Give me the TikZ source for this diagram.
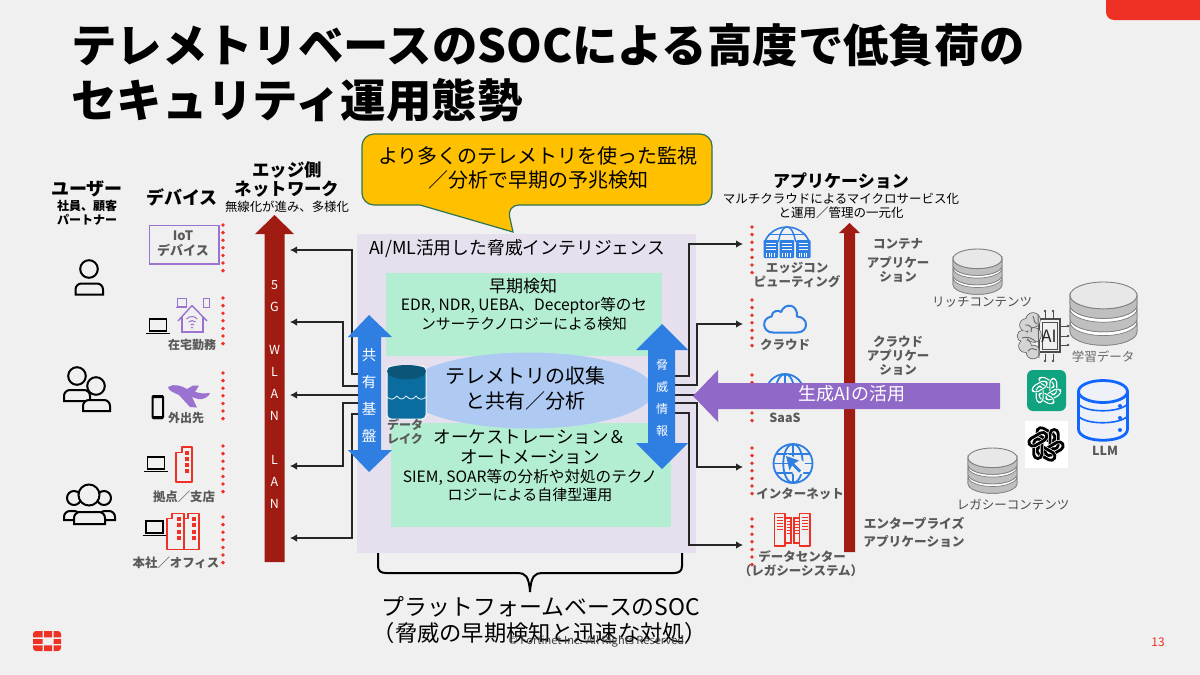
\documentclass[tikz,border=0pt]{standalone}
\usepackage{fontspec}
\setmainfont{Noto Sans CJK JP}
\usetikzlibrary{arrows.meta,calc}
\definecolor{bgc}{HTML}{F0F0F0}
\definecolor{fred}{HTML}{EE3124}
\definecolor{dred}{HTML}{A01C12}
\definecolor{lav}{HTML}{E6E0EE}
\definecolor{mint}{HTML}{B4EED2}
\definecolor{elli}{HTML}{AECAF2}
\definecolor{lake}{HTML}{0B6C9F}
\definecolor{laked}{HTML}{0A5578}
\definecolor{bblue}{HTML}{2F7FE3}
\definecolor{pur}{HTML}{9068C8}
\definecolor{lpur}{HTML}{9B72D0}
\definecolor{gtx}{HTML}{595959}
\definecolor{ylw}{HTML}{FFC000}
\definecolor{ylwb}{HTML}{2E7552}
\definecolor{gpt}{HTML}{10A37F}
\definecolor{llm}{HTML}{1166FF}
\definecolor{llmbg}{HTML}{EEF1F7}
\newcommand\fsz[1]{\fontsize{#1}{#1}\selectfont}
\tikzset{
  lbl/.style={inner sep=0pt,align=center,text=#1},
  lbl/.default=black,
  conn/.style={draw=black!85,line width=1.1pt,-{Latex[length=7pt,width=7.5pt]}},
  connp/.style={draw=black!85,line width=1.1pt},
  icon/.style={draw=black,line width=2pt},
}
% user icons
\newcommand\myhead[3]{\draw[icon,fill=bgc] (#1,#2) circle[radius=#3];}
\newcommand\mybody[4]{\draw[icon,fill=bgc,rounded corners=6pt] (#1,#4) -- (#1,#2) -- (#3,#2) [sharp corners] -- (#3,#4) -- cycle;}
\newcommand\mylaptop[3]{% x-left of screen, top, width
  \draw[draw=black,line width=1.6pt,fill=none] (#1,#2) rectangle ++(#3,12);
  \draw[draw=black,line width=1.5pt] ($(#1,#2)+(-3.5,14.5)$) -- ++(#3+7,0);
}
\newcommand\graydb[4]{% cx top w h
  \pgfmathsetmacro\dbr{#3/2}\pgfmathsetmacro\dbry{#3*0.2}
  \pgfmathsetmacro\dbs{(#4-2*\dbry)/3}
  \foreach \k in {2,1,0}{
    \pgfmathsetmacro\dby{#2+\dbry+\k*\dbs}
    \pgfmathsetmacro\dbh{\dbs*0.72}
    \draw[draw=black!50,line width=.7pt,fill=white] (#1-\dbr,\dby) -- (#1-\dbr,\dby+\dbh) arc[start angle=180,end angle=0,x radius=\dbr,y radius=\dbry] -- (#1+\dbr,\dby) -- cycle;
    \draw[draw=black!50,line width=.7pt,fill=black!25] (#1-\dbr,\dby) -- (#1-\dbr,\dby+\dbh) arc[start angle=180,end angle=0,x radius=\dbr,y radius=\dbry] -- (#1+\dbr,\dby) arc[start angle=0,end angle=180,x radius=\dbr,y radius=\dbry] -- cycle;
  }
  \draw[draw=black!50,line width=.9pt,fill=black!9] (#1,#2+\dbry) ellipse[x radius=\dbr,y radius=\dbry];
}
\newcommand\rosette[6]{% cx cy color lw scale halo
  \foreach \a in {0,60,...,300}{
    \begin{scope}[shift={(#1,#2)},rotate=\a,scale=#5]
      \begin{scope}[shift={(0,-10.5)},rotate=30]
      \draw[draw=#6,line width=#4+1.2pt,rounded corners=4.4pt,line join=round] (-11,-4.6) rectangle (11,4.6);
      \draw[draw=#3,line width=#4,rounded corners=4.4pt,line join=round] (-11,-4.6) rectangle (11,4.6);
      \end{scope}
    \end{scope}
  }
}
\newcommand\myglobe[4]{% cx cy r lw
  \draw[draw=bblue,line width=#4] (#1,#2) circle[radius=#3];
  \draw[draw=bblue,line width=#4] (#1,#2) ellipse[x radius=#3*0.5,y radius=#3];
  \draw[draw=bblue,line width=#4] (#1,#2-#3) -- (#1,#2+#3) (#1-#3,#2) -- (#1+#3,#2);
  \draw[draw=bblue,line width=#4] (#1-#3*0.85,#2-#3*0.5) -- (#1+#3*0.85,#2-#3*0.5) (#1-#3*0.85,#2+#3*0.5) -- (#1+#3*0.85,#2+#3*0.5);
}
\newcommand\dotcol[2]{\foreach \i in {0,...,6}{\fill[fred] (#1,#2+\i*7.6) circle[radius=1.9];}}
\begin{document}
\begin{tikzpicture}[x=1pt,y=1pt,yscale=-1]
\useasboundingbox (0,0) rectangle (1200,675);
\fill[bgc] (0,0) rectangle (1200,675);
\fill[fred,rounded corners=8pt] (1106,-12) rectangle (1212,20);
% title
\node[lbl,anchor=west,font=\fsz{45.4}\bfseries] (title1) at (71,45) {テレメトリベースのSOCによる高度で低負荷の};
\node[lbl,anchor=west,font=\fsz{45.4}\bfseries] (title2) at (71,100) {セキュリティ運用態勢};
% callout
\draw[draw=ylwb,line width=1.2pt,fill=ylw,rounded corners=12pt] (362,134) -- (712,134) -- (712,205) -- (507,205) [sharp corners] -- (513,232) -- (420,205) [rounded corners=12pt] -- (362,205) -- cycle;
\node[lbl,font=\fsz{20}] (call1) at (538,156) {より多くのテレメトリを使った監視};
\node[lbl,font=\fsz{20}] (call2) at (538,180) {／分析で早期の予兆検知};
% central box
\fill[lav] (357,234) rectangle (696,553);
% connectors left
\coordinate (ls1) at (360,374); \coordinate (lt1) at (290,250);
\coordinate (ls2) at (360,386); \coordinate (lt2) at (290,322);
\coordinate (ls3) at (360,395); \coordinate (lt3) at (290,395);
\coordinate (ls4) at (360,403); \coordinate (lt4) at (290,466);
\coordinate (ls5) at (360,414); \coordinate (lt5) at (290,538);
\draw[conn] (ls1) -- ++(-8,0) |- (lt1);
\draw[conn] (ls2) -- ++(-17,0) |- (lt2);
\draw[conn] (ls3) -- (lt3);
\draw[conn] (ls4) -- ++(-17,0) |- (lt4);
\draw[conn] (ls5) -- ++(-8,0) |- (lt5);
% connectors right
\coordinate (rs1) at (674,376); \coordinate (rt1) at (743,244);
\coordinate (rs2) at (674,385); \coordinate (rt2) at (743,324);
\coordinate (rs3) at (674,395); \coordinate (rt3) at (720,395);
\coordinate (rs4) at (674,403); \coordinate (rt4) at (743,467);
\coordinate (rs5) at (674,413); \coordinate (rt5) at (743,545);
\draw[conn] (rs1) -| (689,300) |- (rt1);
\draw[conn] (rs2) -| (697,350) |- (rt2);
\draw[connp] (rs3) -- (rt3);
\draw[conn] (rs4) -| (697,440) |- (rt4);
\draw[conn] (rs5) -| (689,500) |- (rt5);
% mint boxes
\fill[mint] (386,273) rectangle (662,356);
\fill[mint] (391,423) rectangle (671,527);
\fill[elli] (529,390.5) ellipse[x radius=125,y radius=38];
\node[lbl,font=\fsz{17.8}] (aiml) at (517,249) {AI/ML活用した脅威インテリジェンス};
\node[lbl,font=\fsz{17}] (early) at (523,286) {早期検知};
\node[lbl,font=\fsz{15.6}] (early1) at (524,306) {EDR, NDR, UEBA、Deceptor等のセ};
\node[lbl,font=\fsz{14.8}] (early2) at (524,324) {ンサーテクノロジーによる検知};
\node[lbl,font=\fsz{20}] (tele1) at (525,376) {テレメトリの収集};
\node[lbl,font=\fsz{20}] (tele2) at (525,401) {と共有／分析};
\node[lbl,font=\fsz{17.5}] (orch1) at (530,437) {オーケストレーション＆};
\node[lbl,font=\fsz{17.5}] (orch2) at (530,457) {オートメーション};
\node[lbl,font=\fsz{15.6}] (orch3) at (530,477) {SIEM, SOAR等の分析や対処のテクノ};
\node[lbl,font=\fsz{15}] (orch4) at (530,495) {ロジーによる自律型運用};
% data lake
\draw[draw=white,line width=1pt,fill=lake,rounded corners=4pt] (387,366) rectangle (426,419);
\fill[laked] (387,371) .. controls (387,363) and (426,363) .. (426,371) .. controls (426,382) and (387,382) .. (387,371) -- cycle;
\draw[draw=white!85!lake,line width=.9pt] (387,397) .. controls (391,400) and (393,400) .. (397,396) .. controls (400,400) and (403,400) .. (406,396) .. controls (410,400) and (413,400) .. (416,396) .. controls (419,400) and (423,400) .. (426,397);
\node[lbl=gtx,font=\fsz{12}\bfseries] (dl1) at (405,425) {データ};
\node[lbl=gtx,font=\fsz{12}\bfseries] (dl2) at (405,439) {レイク};
% blue double arrows
\fill[bblue] (369,315) -- (392,337) -- (381,337) -- (381,450) -- (392,450) -- (369,472) -- (348,450) -- (358,450) -- (358,337) -- (348,337) -- cycle;
\fill[bblue] (662,324) -- (688,350) -- (675,350) -- (675,443) -- (688,443) -- (662,469) -- (636,443) -- (648,443) -- (648,350) -- (636,350) -- cycle;
\node[lbl=white,font=\fsz{14.5}] (sh1) at (369,355) {共};
\node[lbl=white,font=\fsz{14.5}] (sh2) at (369,382) {有};
\node[lbl=white,font=\fsz{14.5}] (sh3) at (369,409) {基};
\node[lbl=white,font=\fsz{14.5}] (sh4) at (369,436) {盤};
\node[lbl=white,font=\fsz{12}] (th1) at (662,365) {脅};
\node[lbl=white,font=\fsz{12}] (th2) at (662,387) {威};
\node[lbl=white,font=\fsz{12}] (th3) at (662,409) {情};
\node[lbl=white,font=\fsz{12}] (th4) at (662,431) {報};
% left headers
\node[lbl,font=\fsz{18}\bfseries] (u1) at (87,189) {ユーザー};
\node[lbl,font=\fsz{12}\bfseries] (u2) at (87,206) {社員、顧客};
\node[lbl,font=\fsz{12}\bfseries] (u3) at (87,220) {パートナー};
\node[lbl,font=\fsz{18}\bfseries] (dv) at (182,197) {デバイス};
\node[lbl,font=\fsz{17.4}\bfseries] (eg1) at (287,170) {エッジ側};
\node[lbl,font=\fsz{17.4}\bfseries] (eg2) at (287,189) {ネットワーク};
\node[lbl,font=\fsz{12.4}] (eg3) at (287,207) {無線化が進み、多様化};
% persons
\myhead{89}{269}{8.8}\mybody{75.5}{283.5}{103}{294.5}
\mybody{64}{390}{90}{401}\myhead{77}{376}{8.8}
\myhead{96}{386}{8.8}\mybody{83}{400}{110}{411}
\myhead{74}{498}{7}\myhead{104}{498}{7}\myhead{89}{495}{10.5}
\mybody{64}{511}{80}{520}\mybody{99}{511}{115}{520}\mybody{74}{512}{105}{524}
% IoT box
\draw[draw=lpur,line width=1.5pt] (149.5,225.5) rectangle (219,264);
\node[lbl=gtx,font=\fsz{13}\bfseries] (iot1) at (183,236) {IoT};
\node[lbl=gtx,font=\fsz{13}\bfseries] (iot2) at (183,250) {デバイス};
% home
\mylaptop{149.5}{319}{17}
\draw[draw=lpur,line width=1.4pt,line join=round] (178,321) -- (192,305.5) -- (207,321);
\draw[draw=lpur,line width=1.4pt] (182,317) -- (182,332) -- (203,332) -- (203,317);
\draw[draw=lpur,line width=1pt] (186.5,319) arc[start angle=220,end angle=320,radius=7] (188.5,322) arc[start angle=225,end angle=315,radius=5] (190.5,325) arc[start angle=225,end angle=315,radius=2.5];
\fill[lpur] (192,327.5) circle[radius=1];
\draw[draw=lpur,line width=1pt] (177,298.5) rectangle (186,306) (175.5,307.5) -- (187,307.5);
\draw[draw=lpur,line width=1pt] (203.5,298.5) rectangle (209,307);
\node[lbl=gtx,font=\fsz{12}\bfseries] (home) at (192,345) {在宅勤務};
% mobile
\draw[draw=black,line width=2pt,fill=bgc,rounded corners=1pt] (152.5,396) rectangle (163,418);
\fill[black] (152.5,395) rectangle (163,398) (152.5,416) rectangle (163,419);
\fill[lpur] (168,387) .. controls (174,383) and (182,386) .. (187,389) -- (193,385.5) -- (199,385.5) -- (195,392) -- (203,393.5) -- (210,393) .. controls (209,397) and (203,400) .. (198,399) -- (192,397) -- (197,407.5) -- (190,407) -- (179,395) .. controls (175,393) and (168,391) .. (168,387) -- cycle;
\node[lbl=gtx,font=\fsz{12}\bfseries] (out) at (186,418) {外出先};
% branch
\mylaptop{147.5}{457}{17}
\draw[draw=fred,line width=1.3pt,line join=round] (176,452.5) -- (182,452.5) -- (182,447) -- (192,447) -- (192,482) -- (176,482) -- cycle;
\foreach \y in {451,457,463,469}{\fill[fred] (185,\y) rectangle (189,\y+3.5);}
\node[lbl=gtx,font=\fsz{12.4}\bfseries] (bra) at (184,497) {拠点／支店};
% office
\mylaptop{146}{521}{17}
\draw[draw=fred,line width=1.3pt,line join=round] (167,518.5) -- (172,518.5) -- (172,513.5) -- (184,513.5) -- (184,549.5) -- (167,549.5) -- cycle;
\draw[draw=fred,line width=1.3pt,line join=round] (184,518.5) -- (188,518.5) -- (188,513.5) -- (199,513.5) -- (199,549.5) -- (184,549.5);
\foreach \y in {517,523,530,536}{\fill[fred] (177,\y) rectangle (181,\y+3.5);\fill[fred] (192,\y) rectangle (196,\y+3.5);}
\node[lbl=gtx,font=\fsz{12.4}\bfseries] (off) at (176,563) {本社／オフィス};
% red dots
\foreach \y in {225,298,373,446,517}{\dotcol{223}{\y}}
\foreach \y in {227,300,375,448,519}{\dotcol{752}{\y}}
% edge network arrow
\fill[dred] (274.5,215) -- (294,234) -- (284.5,234) -- (284.5,562) -- (264.5,562) -- (264.5,234) -- (255,234) -- cycle;
\foreach \n/\t/\y in {a/5/285,b/G/307,c/W/350,d/L/372,e/A/394,f/N/416,g/L/460,h/A/482,i/N/504}{
  \node[lbl=white,font=\fsz{12.5}] (nw\n) at (274.5,\y) {\t};
}
% right header
\node[lbl,font=\fsz{17}\bfseries] (ap1) at (841,181) {アプリケーション};
\node[lbl,font=\fsz{12.5}] (ap2) at (841,198.5) {マルチクラウドによるマイクロサービス化};
\node[lbl,font=\fsz{12.5}] (ap3) at (841,213) {と運用／管理の一元化};
% app arrow
\fill[dred] (849.5,223) -- (860,233) -- (855,233) -- (855,552) -- (844,552) -- (844,233) -- (839,233) -- cycle;
\node[lbl=gtx,font=\fsz{12.5}\bfseries] (ct1) at (898,244) {コンテナ};
\node[lbl=gtx,font=\fsz{12.5}\bfseries] (ct2) at (898,263) {アプリケー};
\node[lbl=gtx,font=\fsz{12.5}\bfseries] (ct3) at (898,277) {ション};
\node[lbl=gtx,font=\fsz{12.5}\bfseries] (cl1) at (898,342) {クラウド};
\node[lbl=gtx,font=\fsz{12.5}\bfseries] (cl2) at (898,356) {アプリケー};
\node[lbl=gtx,font=\fsz{12.5}\bfseries] (cl3) at (898,370) {ション};
\node[lbl=gtx,font=\fsz{12.7}\bfseries] (en1) at (914,523) {エンタープライズ};
\node[lbl=gtx,font=\fsz{12.7}\bfseries] (en2) at (914,542) {アプリケーション};
% edge computing icon
\begin{scope}
\clip (760,225) rectangle (815,241);
\draw[draw=bblue,line width=1.6pt] (787,249) ellipse[x radius=23.5,y radius=22];
\draw[draw=bblue,line width=1.4pt] (787,249) ellipse[x radius=9,y radius=22];
\draw[draw=bblue,line width=1.4pt] (768,234.5) -- (806,234.5);
\end{scope}
\foreach \x in {763.5,779.5,796}{
  \fill[bblue,rounded corners=1pt] (\x,240) rectangle ++(14.5,18);
  \foreach \y in {243,246,249}{\fill[white] (\x+2.5,\y) rectangle ++(9.5,1.4);}
  \foreach \d in {2.5,5,7.5,10}{\fill[white] (\x+\d,252.5) rectangle ++(1.3,4);}
}
\node[lbl=gtx,font=\fsz{12.5}\bfseries] (ed1) at (797,268) {エッジコン};
\node[lbl=gtx,font=\fsz{12.5}\bfseries] (ed2) at (797,282) {ピューティング};
% cloud icon
\draw[draw=bblue,line width=2pt,line join=round] (773,332.5) .. controls (762,332.5) and (761,318) .. (771.5,316.5) .. controls (772,310) and (779,310) .. (781,312) .. controls (785,302) and (798,304) .. (797,316.5) .. controls (809,317) and (809,332.5) .. (797,332.5) -- cycle;
\node[lbl=gtx,font=\fsz{12.5}\bfseries] (cld) at (785,345) {クラウド};
% SaaS globe
\begin{scope}
\clip (760,370) rectangle (815,395);
\myglobe{785}{393}{19}{1.8pt}
\end{scope}
\node[lbl=gtx,font=\fsz{12.5}\bfseries] (saas) at (785,418) {SaaS};
% internet globe
\myglobe{793}{463.5}{19.5}{1.8pt}
\fill[bgc] (787,454) -- (805,462) -- (803,474) -- (793,474) -- cycle;
\fill[bblue] (786,456) -- (799,460.5) -- (794,463.5) -- (801,470.5) -- (799,472.5) -- (792,465.5) -- (789.5,470.5) -- cycle;
\node[lbl=gtx,font=\fsz{12.5}\bfseries] (net) at (800,494) {インターネット};
% datacenter icon
\draw[draw=fred,line width=1.5pt,line join=round] (774.5,513.5) rectangle (785,546) (799.5,513.5) rectangle (810,546);
\draw[draw=fred,line width=1.2pt] (785,518) -- (791,518) -- (791,543) -- (785,543) (799.5,518) -- (794,518) -- (794,543) -- (799.5,543);
\foreach \y in {517,520,523,526,529}{\fill[fred] (777,\y) rectangle (783,\y+1.3);\fill[fred] (802,\y) rectangle (808,\y+1.3);}
\foreach \y in {521,524,527,530,533}{\fill[fred] (786.5,\y) rectangle (790,\y+1.2);\fill[fred] (795,\y) rectangle (798.5,\y+1.2);}
\node[lbl=gtx,font=\fsz{12.5}\bfseries] (dc1) at (802,557) {データセンター};
\node[lbl=gtx,font=\fsz{12.5}\bfseries] (dc2) at (801,571) {（レガシーシステム）};
% generative AI arrow
\fill[pur] (693,396) -- (718,370) -- (718,383) -- (1000,383) -- (1000,409) -- (718,409) -- (718,422) -- cycle;
\node[lbl=white,font=\fsz{18}] (gen) at (852,394) {生成AIの活用};
% databases
\graydb{977.5}{249}{49}{48}
\node[lbl=black!70,font=\fsz{12.5}] (rich) at (982,302) {リッチコンテンツ};
\graydb{1103.5}{282}{67}{67}
\node[lbl=black!60,font=\fsz{12.5}] (learn) at (1103,357) {学習データ};
\graydb{992.5}{448}{49}{48}
\node[lbl=black!70,font=\fsz{12.5}] (leg) at (1013,505) {レガシーコンテンツ};
% AI brain chip
\foreach \x in {1045,1053}{\draw[draw=black!70,line width=1pt] (\x,312) -- (\x,318) (\x,354) -- (\x,360);\fill[black!70] (\x,311) circle[radius=1.4] (\x,361) circle[radius=1.4];}
\foreach \y in {326,336,345}{\draw[draw=black!70,line width=1pt] (1060,\y) -- (1067,\y);\fill[black!70] (1068,\y) circle[radius=1.4];}
\draw[draw=black!70,line width=1.2pt,fill=bgc] (1039,319) rectangle (1060,352);
\draw[draw=black!70,line width=.8pt] (1042,322) rectangle (1057,349);
\foreach \p/\r in {{(1033,320)}/7,{(1026,325)}/6,{(1023,336)}/5.5,{(1025,346)}/6,{(1033,352)}/6.5,{(1034,335)}/7}{\draw[draw=black!65,line width=1.4pt] \p circle[radius=\r];}
\foreach \p/\r in {{(1033,320)}/7,{(1026,325)}/6,{(1023,336)}/5.5,{(1025,346)}/6,{(1033,352)}/6.5,{(1034,335)}/7}{\fill[black!17] \p circle[radius=\r];}
\draw[draw=black!60,line width=.9pt] (1038,314) -- (1039,358);
\draw[draw=black!60,line width=.9pt] (1025,325) .. controls (1030,324) and (1033,328) .. (1031,332) (1022,338) .. controls (1027,336) and (1032,338) .. (1036,342) (1028,351) .. controls (1031,347) and (1034,349) .. (1037,350) (1033,316) .. controls (1035,320) and (1033,322) .. (1037,324);
\node[lbl=black!85,font=\fsz{17}] (aitxt) at (1049,336) {AI};
% ChatGPT icons
\fill[gpt,rounded corners=6pt] (1027,370) rectangle (1066,411);
\rosette{1046.5}{390.5}{white}{1.1pt}{0.75}{gpt}
\fill[white] (1025,421) rectangle (1068,468);
\rosette{1046}{444}{black}{2.8pt}{0.9}{white}
% LLM
\fill[llmbg] (1077,379) rectangle (1129,441);
\draw[draw=llm,line width=2.8pt] (1078.5,392) -- (1078.5,429) .. controls (1078.5,444) and (1127.5,444) .. (1127.5,429) -- (1127.5,392);
\draw[draw=llm,line width=2.8pt] (1103,391.5) ellipse[x radius=24.5,y radius=11];
\draw[draw=llm,line width=1.6pt] (1078.5,404) .. controls (1085,413) and (1120,413) .. (1127.5,404) (1078.5,416) .. controls (1085,425) and (1120,425) .. (1127.5,416);
\fill[llm] (1120,406) circle[radius=2] (1120,418) circle[radius=2] (1120,430) circle[radius=2];
\node[lbl=gtx,font=\fsz{12.5}\bfseries] (llmt) at (1105,451) {LLM};
% bracket
\draw[draw=black,line width=2pt] (378,553) -- (378,566) .. controls (378,571) and (381,573) .. (386,573) -- (518,573) .. controls (525,573) and (529,576) .. (530,592) .. controls (531,576) and (535,573) .. (542,573) -- (674,573) .. controls (679,573) and (682,571) .. (682,566) -- (682,553);
\node[lbl,font=\fsz{22.9}] (pf1) at (541,607) {プラットフォームベースのSOC};
\node[lbl,font=\fsz{22.3}] (pf2) at (540,633) {（脅威の早期検知と迅速な対処）};
\node[lbl=black!75,font=\fsz{11.1}] (copy) at (598,641) {© Fortinet Inc. All Rights Reserved.};
\node[lbl=fred,font=\fsz{12}] (pg) at (1158,642) {13};
% logo
\begin{scope}
\clip[rounded corners=3pt] (33,631) rectangle (61,651);
\fill[fred] (33,631) rectangle (42.5,637.3) (44,631) rectangle (52,637.3) (53.5,631) rectangle (61,637.3);
\fill[fred] (33,639) rectangle (42.5,643.8) (53.5,639) rectangle (61,643.8);
\fill[fred] (33,645.4) rectangle (42.5,651) (44,645.4) rectangle (52,651) (53.5,645.4) rectangle (61,651);
\end{scope}
\end{tikzpicture}
\end{document}
